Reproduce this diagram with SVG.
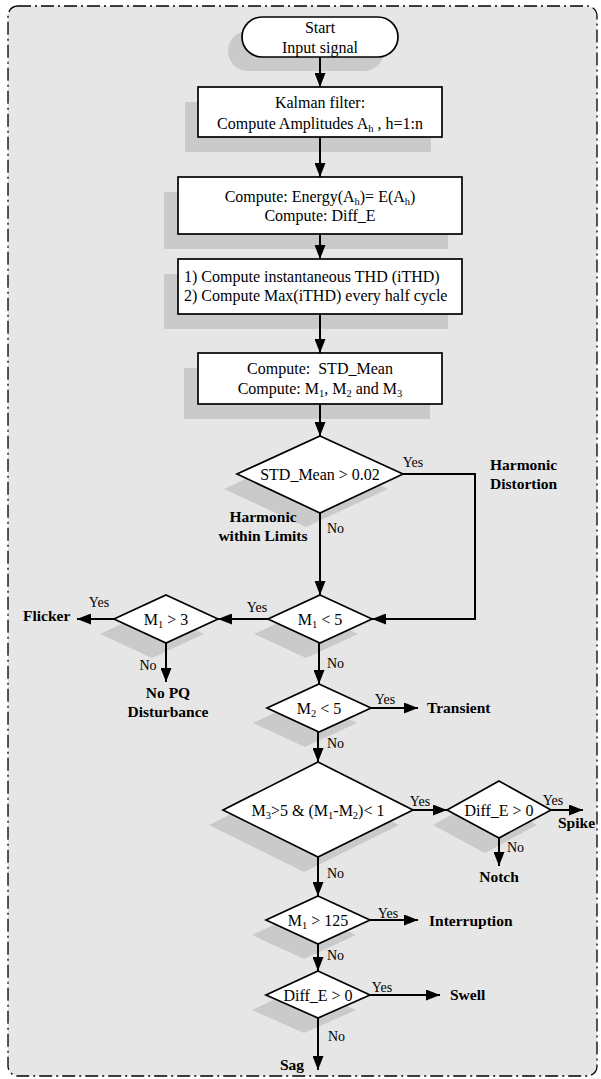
<svg xmlns="http://www.w3.org/2000/svg" width="601" height="1079" viewBox="0 0 601 1079">
<defs>
<style>
text{font-family:"Liberation Serif","Times New Roman",serif;fill:#000}
.t{font-size:16px}
.m{text-anchor:middle}
.b{font-weight:bold;font-size:15.5px}
.l{font-size:14px}
.sh{fill:#cacaca;stroke:none}
.n{fill:#fff;stroke:#000;stroke-width:1.7}
.c{fill:none;stroke:#000;stroke-width:2;marker-end:url(#ah)}
.p{white-space:pre}
</style>
<marker id="ah" markerUnits="userSpaceOnUse" markerWidth="14" markerHeight="11" refX="14" refY="5.5" orient="auto">
<path d="M0,0 L14,5.5 L0,11 z" fill="#000"/>
</marker>
</defs>
<rect x="8" y="6" width="589" height="1070" rx="10" fill="#e6e6e6" stroke="#000" stroke-width="1.3" stroke-dasharray="13 4 2 4"/>

<g id="start">
<rect class="sh" x="228" y="31" width="156" height="40" rx="20"/>
<rect class="n" x="242" y="17" width="156" height="40" rx="20"/>
<text class="t m" x="320" y="32.5">Start</text>
<text class="t m" x="320" y="52.5">Input signal</text>
</g>
<g id="kalman">
<rect class="sh" x="185" y="102" width="246" height="50"/>
<rect class="n" x="198" y="87" width="244" height="50"/>
<text class="t m" x="320" y="108">Kalman filter:</text>
<text class="t m" x="320" y="129">Compute Amplitudes A<tspan font-size="10.5" dy="3">h</tspan><tspan dy="-3"> , h=1:n</tspan></text>
</g>
<g id="energy">
<rect class="sh" x="164" y="192" width="284" height="57"/>
<rect class="n" x="178" y="177" width="284" height="57"/>
<text class="t m" x="320" y="202">Compute: Energy(A<tspan font-size="10.5" dy="3">h</tspan><tspan dy="-3">)= E(A</tspan><tspan font-size="10.5" dy="3">h</tspan><tspan dy="-3">)</tspan></text>
<text class="t m" x="320" y="221">Compute: Diff_E</text>
</g>
<g id="thd">
<rect class="sh" x="164" y="274" width="284" height="55"/>
<rect class="n" x="178" y="259" width="284" height="55"/>
<text class="t" x="184" y="282">1) Compute instantaneous THD (iTHD)</text>
<text class="t" x="184" y="301">2) Compute Max(iTHD) every half cycle</text>
</g>
<g id="std">
<rect class="sh" x="184" y="368" width="246" height="51"/>
<rect class="n" x="198" y="353" width="244" height="51"/>
<text class="t m p" x="320" y="374">Compute:  STD_Mean</text>
<text class="t m" x="320" y="394">Compute: M<tspan font-size="10.5" dy="3">1</tspan><tspan dy="-3">, M</tspan><tspan font-size="10.5" dy="3">2</tspan><tspan dy="-3"> and M</tspan><tspan font-size="10.5" dy="3">3</tspan></text>
</g>
<g id="d_std">
<polygon class="sh" points="306,451 388,489 306,527 224,489"/>
<polygon class="n" points="320,436 403,474 320,513 237,474"/>
<text class="t m" x="320" y="479.5">STD_Mean &gt; 0.02</text>
</g>
<g id="d_m1lt5">
<polygon class="sh" points="306,610 358,634 306,658 254,634"/>
<polygon class="n" points="320,595 372,619 320,643 268,619"/>
<text class="t m" x="320" y="624.5">M<tspan font-size="10.5" dy="3">1</tspan><tspan dy="-3"> &lt; 5</tspan></text>
</g>
<g id="d_m1gt3">
<polygon class="sh" points="152,610 204,634 152,658 100,634"/>
<polygon class="n" points="166,595 218,619 166,643 114,619"/>
<text class="t m" x="166" y="624.5">M<tspan font-size="10.5" dy="3">1</tspan><tspan dy="-3"> &gt; 3</tspan></text>
</g>
<g id="d_m2">
<polygon class="sh" points="305,699 357,723 305,747 253,723"/>
<polygon class="n" points="319,684 371,708 319,732 267,708"/>
<text class="t m" x="319" y="713.5">M<tspan font-size="10.5" dy="3">2</tspan><tspan dy="-3"> &lt; 5</tspan></text>
</g>
<g id="d_m3">
<polygon class="sh" points="304,777 399,825 304,872 209,825"/>
<polygon class="n" points="318,762 413,810 318,857 223,810"/>
<text class="t m" x="318" y="815.5">M<tspan font-size="10.5" dy="3">3</tspan><tspan dy="-3">&gt;5 &amp; (M</tspan><tspan font-size="10.5" dy="3">1</tspan><tspan dy="-3">-M</tspan><tspan font-size="10.5" dy="3">2</tspan><tspan dy="-3">)&lt; 1</tspan></text>
</g>
<g id="d_diffe1">
<polygon class="sh" points="485,796 537,825 485,853 433,825"/>
<polygon class="n" points="499,781 551,810 499,838 447,810"/>
<text class="t m" x="499" y="815.5">Diff_E &gt; 0</text>
</g>
<g id="d_m1gt125">
<polygon class="sh" points="304,911 356,935 304,959 252,935"/>
<polygon class="n" points="318,896 370,920 318,944 266,920"/>
<text class="t m" x="318" y="925.5">M<tspan font-size="10.5" dy="3">1</tspan><tspan dy="-3"> &gt; 125</tspan></text>
</g>
<g id="d_diffe2">
<polygon class="sh" points="304,986 356,1010 304,1033 252,1010"/>
<polygon class="n" points="318,971 370,995 318,1018 266,995"/>
<text class="t m" x="318" y="1000.5">Diff_E &gt; 0</text>
</g>

<g id="connectors">
<path class="c" d="M320,57 V87"/>
<path class="c" d="M320,137 V177"/>
<path class="c" d="M320,234 V259"/>
<path class="c" d="M320,314 V353"/>
<path class="c" d="M320,404 V436"/>
<path class="c" d="M403,474 H475 V619 H372"/>
<path class="c" d="M320,513 V595"/>
<path class="c" d="M268,619 H218"/>
<path class="c" d="M114,619 H77"/>
<path class="c" d="M166,643 V682"/>
<path class="c" d="M319,643 V684"/>
<path class="c" d="M371,708 H418"/>
<path class="c" d="M318,732 V762"/>
<path class="c" d="M413,810 H447"/>
<path class="c" d="M551,810 H583"/>
<path class="c" d="M499,838 V866"/>
<path class="c" d="M318,857 V896"/>
<path class="c" d="M370,920 H418"/>
<path class="c" d="M318,944 V971"/>
<path class="c" d="M370,995 H440"/>
<path class="c" d="M318,1018 V1070"/>
</g>

<g id="labels">
<text class="l m" x="413" y="467">Yes</text>
<text class="b" x="490" y="470">Harmonic</text>
<text class="b" x="490" y="489">Distortion</text>
<text class="b m" x="263" y="522">Harmonic</text>
<text class="b m" x="263" y="541">within Limits</text>
<text class="l" x="327" y="533">No</text>
<text class="l m" x="257" y="612">Yes</text>
<text class="l m" x="99" y="607">Yes</text>
<text class="b" x="23" y="621">Flicker</text>
<text class="l m" x="148" y="670">No</text>
<text class="b m" x="168" y="698">No PQ</text>
<text class="b m" x="168" y="717">Disturbance</text>
<text class="l" x="327" y="668">No</text>
<text class="l m" x="385" y="704">Yes</text>
<text class="b" x="427" y="713">Transient</text>
<text class="l" x="327" y="748">No</text>
<text class="l m" x="420" y="806">Yes</text>
<text class="l m" x="553" y="805">Yes</text>
<text class="b" x="558" y="828">Spike</text>
<text class="l" x="507" y="852">No</text>
<text class="b m" x="499" y="882">Notch</text>
<text class="l" x="327" y="878">No</text>
<text class="l m" x="388" y="918">Yes</text>
<text class="b" x="429" y="926">Interruption</text>
<text class="l" x="327" y="960">No</text>
<text class="l m" x="382" y="992">Yes</text>
<text class="b" x="450" y="1000">Swell</text>
<text class="l" x="328" y="1041">No</text>
<text class="b m" x="292" y="1070">Sag</text>
</g>
</svg>
